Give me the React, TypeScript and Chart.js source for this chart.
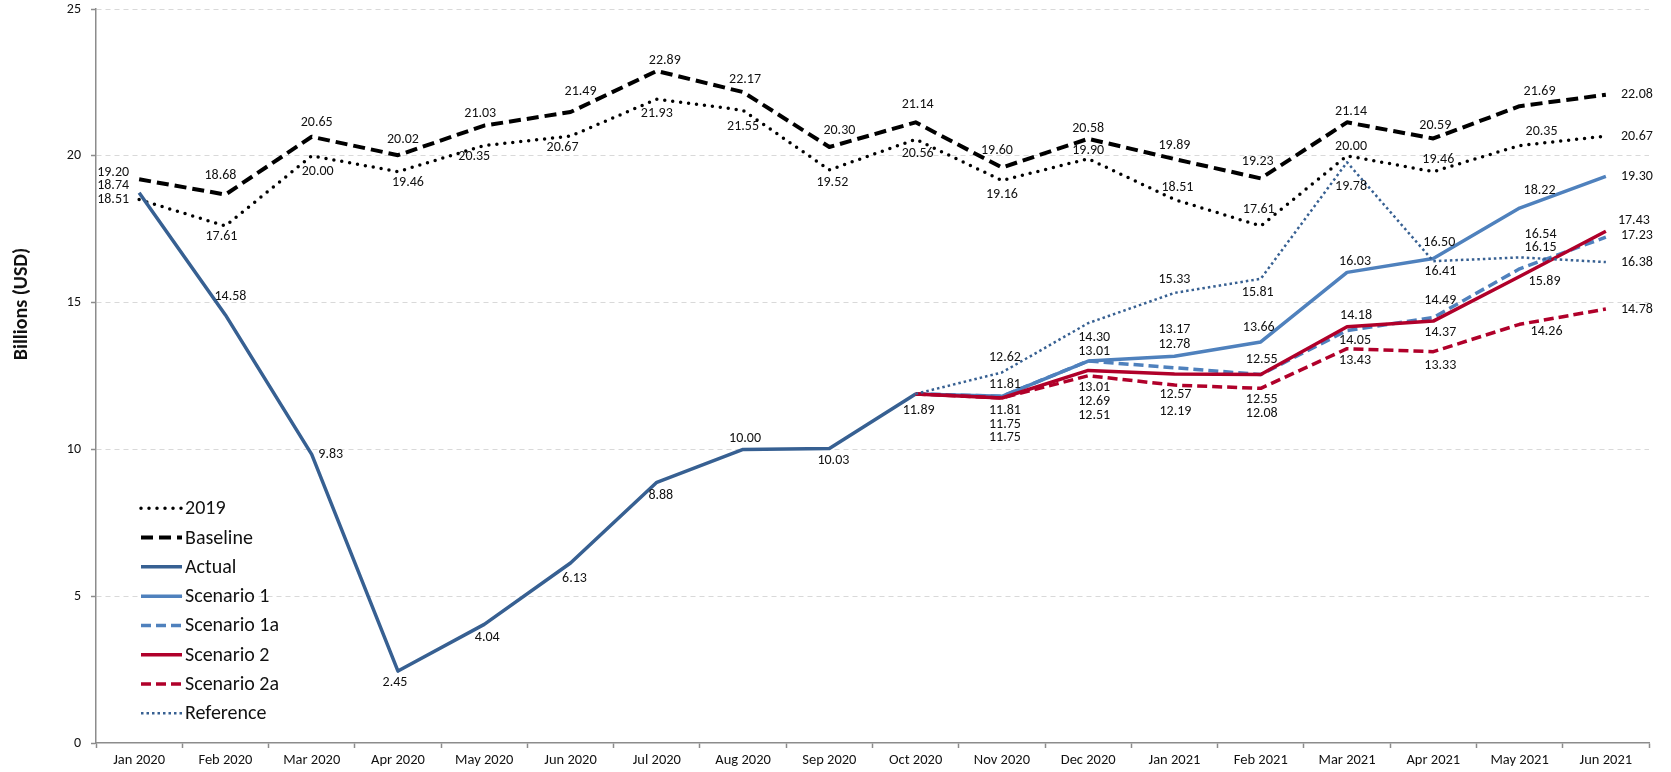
import React, { useEffect, useRef } from 'react';
import { Chart, registerables } from 'chart.js';

Chart.register(...registerables);

const FONT = 'Carlito, Calibri, Lato, sans-serif';

// ---------- data ----------
const months = [
  'Jan 2020', 'Feb 2020', 'Mar 2020', 'Apr 2020', 'May 2020', 'Jun 2020',
  'Jul 2020', 'Aug 2020', 'Sep 2020', 'Oct 2020', 'Nov 2020', 'Dec 2020',
  'Jan 2021', 'Feb 2021', 'Mar 2021', 'Apr 2021', 'May 2021', 'Jun 2021',
];

const y2019 = [18.51, 17.61, 20.0, 19.46, 20.35, 20.67, 21.93, 21.55, 19.52, 20.56, 19.16, 19.9, 18.51, 17.61, 20.0, 19.46, 20.35, 20.67];
const baseline = [19.2, 18.68, 20.65, 20.02, 21.03, 21.49, 22.89, 22.17, 20.3, 21.14, 19.6, 20.58, 19.89, 19.23, 21.14, 20.59, 21.69, 22.08];
const actual = [18.74, 14.58, 9.83, 2.45, 4.04, 6.13, 8.88, 10.0, 10.03, 11.89, null, null, null, null, null, null, null, null];
const scenario1 = [null, null, null, null, null, null, null, null, null, 11.89, 11.81, 13.01, 13.17, 13.66, 16.03, 16.5, 18.22, 19.3];
const scenario1a = [null, null, null, null, null, null, null, null, null, 11.89, 11.81, 13.01, 12.78, 12.55, 14.05, 14.49, 16.15, 17.23];
const scenario2 = [null, null, null, null, null, null, null, null, null, 11.89, 11.75, 12.69, 12.57, 12.55, 14.18, 14.37, 15.89, 17.43];
const scenario2a = [null, null, null, null, null, null, null, null, null, 11.89, 11.75, 12.51, 12.19, 12.08, 13.43, 13.33, 14.26, 14.78];
const reference = [null, null, null, null, null, null, null, null, null, 11.89, 12.62, 14.3, 15.33, 15.81, 19.78, 16.41, 16.54, 16.38];

const yTicks = [0, 5, 10, 15, 20, 25];

// ---------- label placement (offset of label centre from its point, px) ----------
const N = null;
const lab2019 = [[-26, 0], [-4, 11], [6, 16], [10, 11], [-10, 11], [-8, 11], [0, 14], [0, 16], [3, 13], [2, 14], [0, 14], [0, -8], [3, -12], [-2, -16], [4, -9], [5, -12], [22, -14], [31, 0]];
const labBaseline = [[-26, -7], [-5, -19], [5, -14], [5, -16], [-4, -12], [10, -21], [8, -10], [2, -13], [10, -16], [2, -18], [-5, -17], [0, -10], [0, -14], [-3, -17], [4, -11], [2, -13], [20, -15], [31, 0]];
const labActual = [[-26, -7], [5, -18], [19, 0], [-3, 11], [3, 13], [4, 15], [4, 13], [2, -11], [4, 12], [3, 17], N, N, N, N, N, N, N, N];
const labS1 = [N, N, N, N, N, N, N, N, N, N, [3, -12], [6, -10], [0, -27], [-2, -14], [8, -11], [6, -16], [20, -18], [31, 0]];
const labS1a = [N, N, N, N, N, N, N, N, N, N, [3, 14], [6, 26], [0, -23], [1, -15], [8, 10], [7, -17], [21, -21], [31, -2]];
const labS2 = [N, N, N, N, N, N, N, N, N, N, [3, 26], [6, 31], [1, 21], [1, 25], [9, -11], [7, 11], [25, 5], [28, -11]];
const labS2a = [N, N, N, N, N, N, N, N, N, N, [3, 39], [6, 40], [1, 26], [1, 25], [8, 12], [7, 14], [27, 7], [31, 0]];
const labRef = [N, N, N, N, N, N, N, N, N, N, [3, -15], [6, 14], [0, -13], [-3, 14], [4, 24], [7, 10], [21, -23], [31, 0]];

type Series = {
  label: string;
  data: (number | null)[];
  color: string;
  width: number;
  dash: number[];
  cap: CanvasLineCap;
  labels: (number[] | null)[];
};

const SERIES: Series[] = [
  { label: '2019', data: y2019, color: '#000000', width: 3.5, dash: [0, 8], cap: 'round', labels: lab2019 },
  { label: 'Baseline', data: baseline, color: '#000000', width: 4, dash: [12, 6], cap: 'butt', labels: labBaseline },
  { label: 'Actual', data: actual, color: '#376092', width: 3.5, dash: [], cap: 'butt', labels: labActual },
  { label: 'Scenario 1', data: scenario1, color: '#4F81BD', width: 3.5, dash: [], cap: 'butt', labels: labS1 },
  { label: 'Scenario 1a', data: scenario1a, color: '#4F81BD', width: 3.5, dash: [10, 5], cap: 'butt', labels: labS1a },
  { label: 'Scenario 2', data: scenario2, color: '#B0002A', width: 3.5, dash: [], cap: 'butt', labels: labS2 },
  { label: 'Scenario 2a', data: scenario2a, color: '#B0002A', width: 3.5, dash: [10, 5], cap: 'butt', labels: labS2a },
  { label: 'Reference', data: reference, color: '#376092', width: 2.5, dash: [2.5, 3], cap: 'butt', labels: labRef },
];

const labelPlugin = {
  id: 'pointLabels',
  afterDatasetsDraw(chart: any) {
    const { ctx } = chart;
    ctx.save();
    ctx.font = `14px ${FONT}`;
    ctx.fillStyle = '#111111';
    ctx.textAlign = 'center';
    ctx.textBaseline = 'middle';
    SERIES.forEach((s, di) => {
      const meta = chart.getDatasetMeta(di);
      meta.data.forEach((pt: any, i: number) => {
        const v = s.data[i];
        const o = s.labels[i];
        if (v == null || !o) return;
        ctx.fillText(v.toFixed(2), pt.x + o[0], pt.y + o[1]);
      });
    });
    ctx.restore();
  },
};

const legendPlugin = {
  id: 'customLegend',
  afterDraw(chart: any) {
    const { ctx } = chart;
    ctx.save();
    const x0 = 141;
    const x1 = 182;
    const top = 508.3;
    const step = 29.28;
    SERIES.forEach((s, i) => {
      const y = top + i * step;
      ctx.beginPath();
      ctx.strokeStyle = s.color;
      ctx.lineWidth = s.width;
      ctx.lineCap = s.cap;
      ctx.setLineDash(s.dash);
      ctx.moveTo(x0, y);
      ctx.lineTo(x1, y);
      ctx.stroke();
      ctx.setLineDash([]);
      ctx.fillStyle = '#111111';
      ctx.font = `20px ${FONT}`;
      ctx.textAlign = 'left';
      ctx.textBaseline = 'middle';
      ctx.fillText(s.label, 185, y + 1);
    });
    ctx.restore();
  },
};

const yTitlePlugin = {
  id: 'yTitle',
  afterDraw(chart: any) {
    const { ctx } = chart;
    ctx.save();
    ctx.translate(22, 304);
    ctx.rotate(-Math.PI / 2);
    ctx.font = `bold 20px ${FONT}`;
    ctx.fillStyle = '#111111';
    ctx.textAlign = 'center';
    ctx.textBaseline = 'middle';
    ctx.fillText('Billions (USD)', 0, 0);
    ctx.restore();
  },
};

export default function App() {
  const ref = useRef<HTMLCanvasElement>(null);

  useEffect(() => {
    const canvas = ref.current;
    if (!canvas) return;
    const chart = new Chart(canvas, {
      type: 'line',
      data: {
        labels: months,
        datasets: SERIES.map((s, i) => ({
          label: s.label,
          data: s.data,
          borderColor: s.color,
          backgroundColor: s.color,
          borderWidth: s.width,
          borderDash: s.dash,
          borderCapStyle: s.cap,
          borderJoinStyle: 'round',
          pointRadius: 0,
          pointHoverRadius: 0,
          fill: false,
          tension: 0,
          spanGaps: false,
          order: 20 - i,
        })) as any,
      },
      options: {
        animation: false,
        responsive: false,
        maintainAspectRatio: false,
        events: [],
        layout: { padding: { left: 0, top: 9, right: 22, bottom: 0 } },
        plugins: {
          legend: { display: false },
          tooltip: { enabled: false },
          title: { display: false },
        },
        scales: {
          x: {
            type: 'category',
            offset: true,
            grid: {
              offset: true,
              drawOnChartArea: false,
              drawTicks: true,
              tickLength: 5,
              tickColor: '#8c8c8c',
              tickWidth: 1.5,
            },
            border: { display: true, color: '#8c8c8c', width: 1.5 },
            ticks: {
              autoSkip: false,
              maxRotation: 0,
              minRotation: 0,
              padding: 4,
              color: '#111111',
              font: { family: FONT, size: 14.5 },
            },
            afterFit: (scale: any) => {
              scale.height = 29;
              scale.paddingLeft = 0;
              scale.paddingRight = 0;
            },
          },
          y: {
            min: 0,
            max: 25,
            afterBuildTicks: (scale: any) => {
              scale.ticks = yTicks.map((v) => ({ value: v }));
            },
            grid: {
              color: (c: any) => (c.tick && c.tick.value === 0 ? 'rgba(0,0,0,0)' : '#d9d9d9'),
              lineWidth: 1,
              drawTicks: true,
              tickLength: 5,
              tickColor: '#8c8c8c',
              tickWidth: 1.5,
              tickBorderDash: [],
            },
            border: { display: true, color: '#8c8c8c', width: 1.5, dash: [5, 4] },
            ticks: {
              padding: 10,
              color: '#111111',
              font: { family: FONT, size: 14 },
            },
            afterFit: (scale: any) => {
              scale.width = 96;
              scale.paddingTop = 0;
              scale.paddingBottom = 0;
            },
          },
        },
      },
      plugins: [labelPlugin, legendPlugin, yTitlePlugin],
    });
    return () => chart.destroy();
  }, []);

  return (
    <div style={{ position: 'fixed', left: 0, top: 0, width: 1671, height: 772, background: '#ffffff' }}>
      <canvas ref={ref} width={1671} height={772} style={{ display: 'block', width: 1671, height: 772 }} />
    </div>
  );
}
